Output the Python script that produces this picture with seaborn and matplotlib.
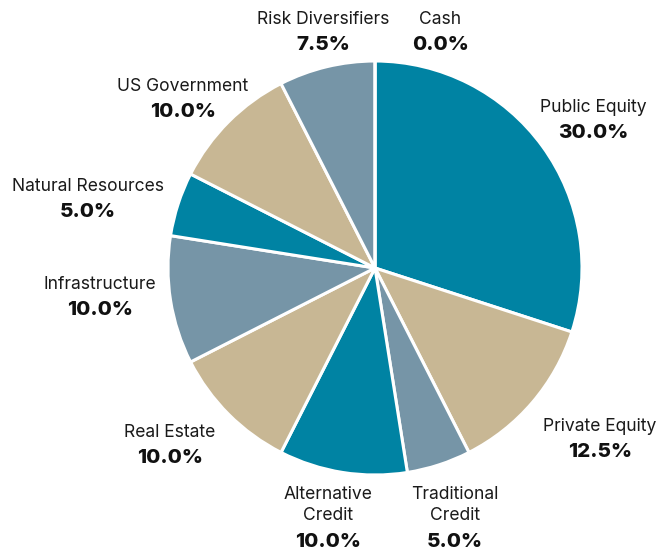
import numpy as np
import matplotlib
matplotlib.use("Agg")
import matplotlib.pyplot as plt
import seaborn as sns

categories = ["Public Equity", "Private Equity", "Traditional\nCredit", "Alternative\nCredit",
              "Real Estate", "Infrastructure", "Natural Resources", "US Government",
              "Risk Diversifiers", "Cash"]
values = [30.0, 12.5, 5.0, 10.0, 10.0, 10.0, 5.0, 10.0, 7.5, 0.0]

TEAL, BEIGE, GREY = "#0083A3", "#C8B794", "#7695A7"
colors = [TEAL, BEIGE, GREY, TEAL, BEIGE, GREY, TEAL, BEIGE, GREY, TEAL]

# label layout (distance from centre in radii, angle tweak in degrees)
label_dist = [1.274, 1.362, 1.261, 1.222, 1.307, 1.336, 1.427, 1.237, 1.172, 1.187]
label_dang = [-1.74, 3.43, -0.16, -1.71, -4.27, -3.08, 4.39, 3.56, -1.13, -15.34]

sns.set_theme(style="white")
plt.rcParams["font.family"] = ["Inter", "DejaVu Sans"]

W, H = 663, 552
fig = plt.figure(figsize=(W / 100, H / 100), dpi=100)
cx, cy, r = 375, 268, 207
ax = fig.add_axes([(cx - r) / W, 1 - (cy + r) / H, 2 * r / W, 2 * r / H])

wedges, _ = ax.pie(values, colors=colors, startangle=90, counterclock=False,
                   radius=1.0, wedgeprops=dict(edgecolor="white", linewidth=2.2))
ax.set_xlim(-1, 1)
ax.set_ylim(-1, 1)
ax.set_aspect("equal")
ax.axis("off")

PX = 0.72  # points per pixel at 100 dpi
pitch, gap = 23, 25.5  # pixel spacing between name lines / name and pct
total = sum(values)
start = 90.0
for i, (cat, v) in enumerate(zip(categories, values)):
    span = v / total * 360
    mid = start - span / 2 + label_dang[i]
    start -= span
    d = label_dist[i]
    x, y = d * np.cos(np.radians(mid)), d * np.sin(np.radians(mid))
    n = cat.count("\n") + 1
    span_px = (n - 1) * pitch + gap
    first = -span_px / 2 + 1  # screen px (down positive) of first name line centre
    name_c = first + (n - 1) * pitch / 2
    pct_c = first + span_px
    ax.annotate(cat, (x, y), xytext=(0, -name_c * PX), textcoords="offset points",
                ha="center", va="center", fontsize=12.6, color="#1a1a1a",
                linespacing=1.28, annotation_clip=False)
    ax.annotate(f"{v:.1f}%", (x, y), xytext=(0, -pct_c * PX), textcoords="offset points",
                ha="center", va="center", fontsize=14.8, fontweight=800, color="#111111",
                annotation_clip=False)

fig.savefig("out.png", dpi=100, facecolor="white")
